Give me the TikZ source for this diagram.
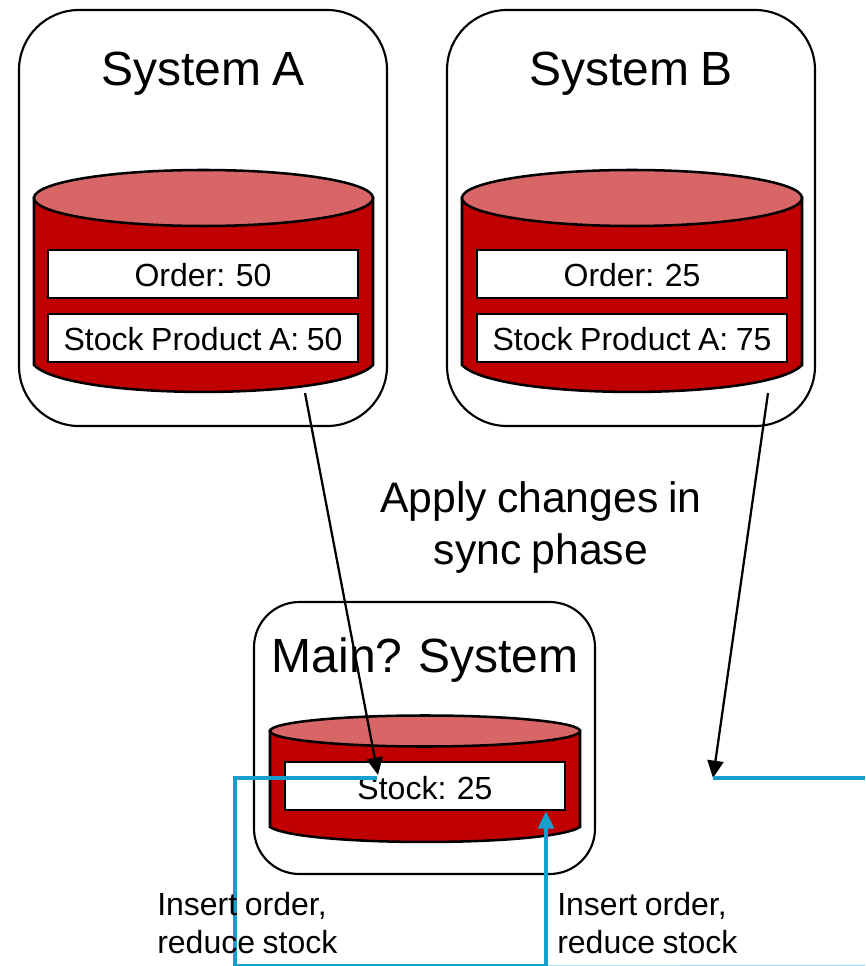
\documentclass[tikz,border=0pt]{standalone}
\usepackage{fontspec}
\setmainfont[WordSpace=0.85]{Liberation Sans}
\usetikzlibrary{arrows.meta}
\definecolor{dbred}{HTML}{C00000}
\definecolor{dbtop}{HTML}{D86666}
\definecolor{flow}{HTML}{169FCE}
\definecolor{flowfaint}{HTML}{A5DCEB}
\tikzset{
  x=0.75pt,y=-0.75pt,
  sysbox/.style={draw=black,line width=1.6pt,fill=white,rounded corners=#1,inner sep=0pt},
  tablebox/.style={draw=black,line width=2pt,fill=white,inner sep=0pt,text height=19pt,text depth=0pt,font=\fontsize{24}{28}\selectfont},
  title/.style={inner sep=0pt,font=\fontsize{36}{42}\selectfont},
  caption/.style={inner sep=0pt,align=left,anchor=north west,font=\fontsize{24}{28.5}\selectfont},
  syncline/.style={draw=black,line width=1.7pt,-{Triangle[length=13pt,width=12pt]}},
  flowline/.style={draw=flow,line width=2.3pt},
  flowarrow/.style={flowline,-{Triangle[length=13pt,width=12pt]}},
}
\newcommand{\dbcyl}[6]{% left, right, top centre y, side bottom y, ry top, ry bottom
  \filldraw[fill=dbred,draw=black,line width=1.9pt]
    (#1,#3) -- (#1,#4)
    .. controls (#1+0.1*#2-0.1*#1,#4+#6*1.33) and (#2-0.1*#2+0.1*#1,#4+#6*1.33) .. (#2,#4)
    -- (#2,#3) -- cycle;
  \filldraw[fill=dbtop,draw=black,line width=1.9pt]
    ({(#1+#2)/2},#3) ellipse [x radius={(#2-#1)/2},y radius=#5];
}
\begin{document}
\begin{tikzpicture}
\useasboundingbox (0,0) rectangle (865,966);
% containers
\node[sysbox=45pt,minimum width=276pt,minimum height=312pt] (sysA) at (203,218) {};
\node[sysbox=45pt,minimum width=276pt,minimum height=312pt] (sysB) at (631,218) {};
\node[sysbox=34pt,minimum width=255.75pt,minimum height=204pt] (sysM) at (424.5,738) {};
\node[title] (titleA) at (203,74) {System A};
\node[title] (titleB) at (631,74) {System B};
\node[title] (titleM) at (425,660) {Main? System};
% databases
\dbcyl{34}{373}{198}{365}{28}{27}
\dbcyl{462}{802}{198}{365}{28}{27}
\dbcyl{270}{580}{731}{827}{15.5}{15}
% tables
\node[tablebox,minimum width=232.5pt,minimum height=36pt] (orderA) at (203,274) {Order: 50};
\node[tablebox,minimum width=232.5pt,minimum height=36pt] (stockA) at (203,338) {Stock Product A: 50};
\node[tablebox,minimum width=232.5pt,minimum height=36pt] (orderB) at (632,274) {Order: 25};
\node[tablebox,minimum width=232.5pt,minimum height=36pt] (stockB) at (632,338) {Stock Product A: 75};
\node[tablebox,text height=20pt,minimum width=210pt,minimum height=36pt] (stockM) at (425,786) {Stock: 25};
% free ends
\coordinate (aStart) at (305,393);
\coordinate (aEnd) at (378,775);
\coordinate (bStart) at (768,393);
\coordinate (bEnd) at (713,778);
\coordinate (flowR) at (865,778);
\coordinate (flowL) at (377,778);
\coordinate (flowC) at (235,778);
\coordinate (flowD) at (235,966);
\coordinate (flowE) at (546,966);
\coordinate (flowF) at (865,965.5);
% connectors
\draw[syncline] (aStart) -- (aEnd);
\draw[syncline] (bStart) -- (bEnd);
\draw[flowline] (flowR) -- (bEnd);
\draw[draw=flowfaint,line width=1.2pt] (flowE) -- (flowF);
\draw[flowarrow] (flowL) -- (flowC) -- (flowD) -- (flowE) -- (stockM.south -| flowE);
% labels
\node[inner sep=0pt,align=center,font=\fontsize{32}{39}\selectfont] (apply) at (541,527) {Apply changes in\\sync phase};
\node[caption] (insL) at (157,892) {Insert order,\\reduce stock};
\node[caption] (insR) at (557,892) {Insert order,\\reduce stock};
\end{tikzpicture}
\end{document}
